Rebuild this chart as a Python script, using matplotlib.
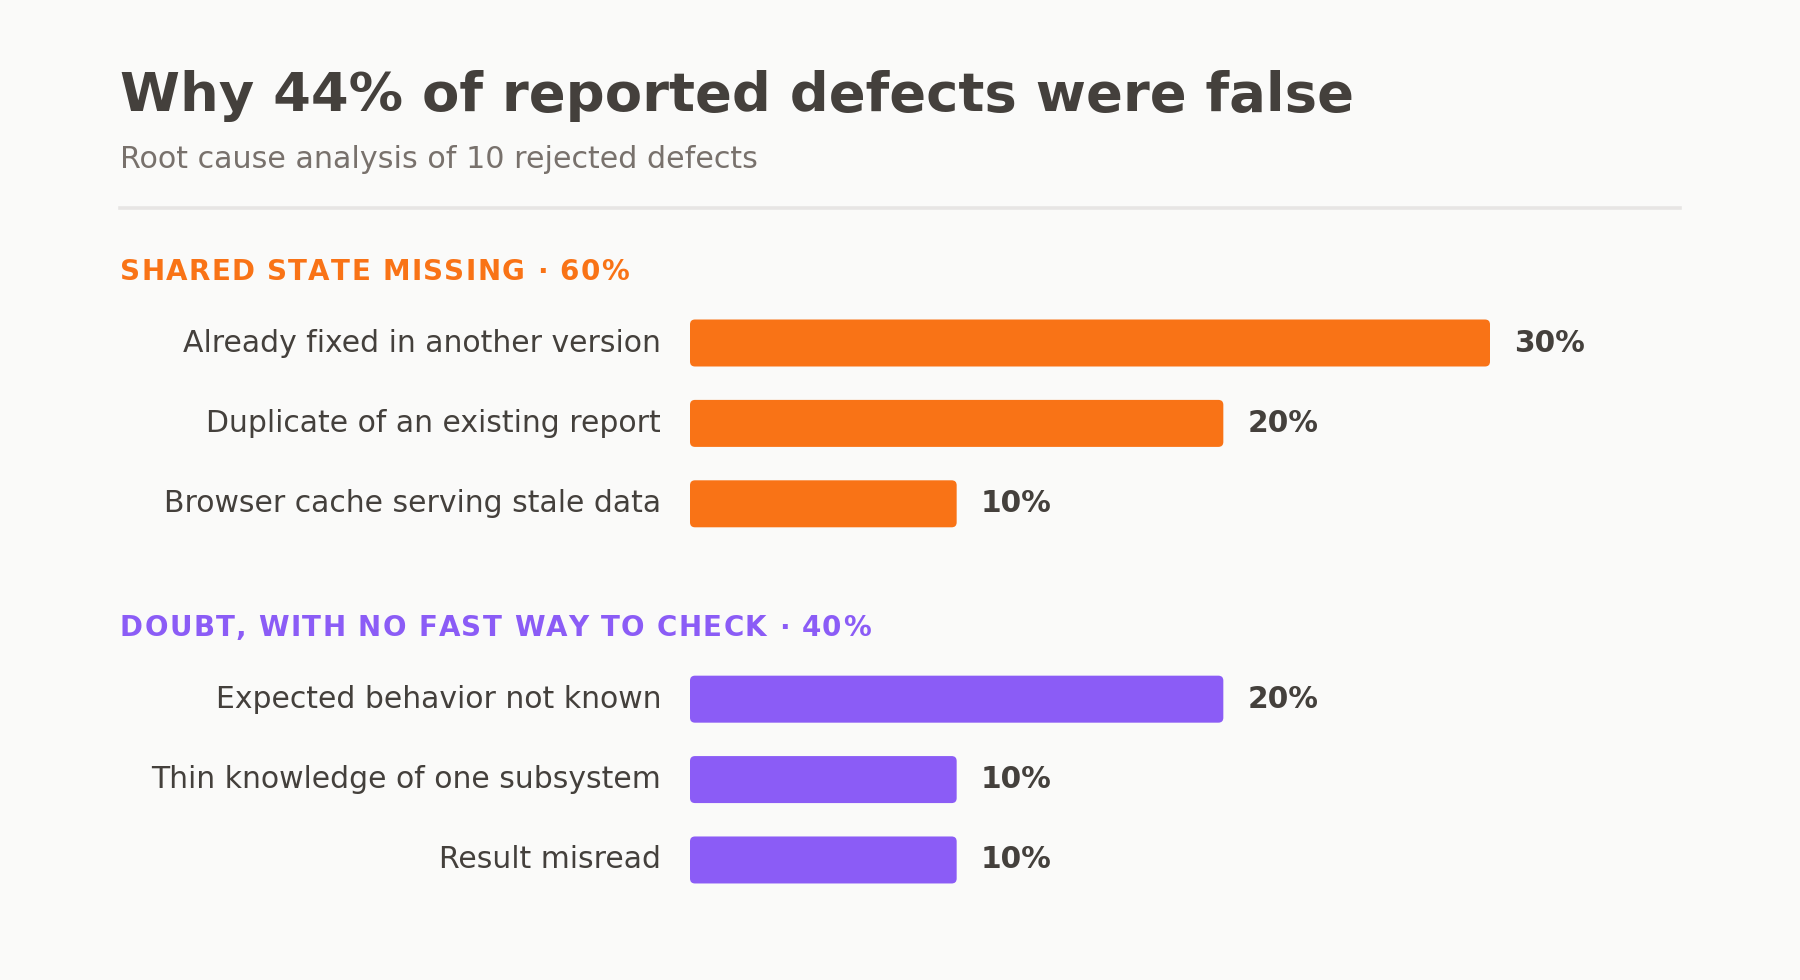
import matplotlib
matplotlib.use("Agg")
import matplotlib.pyplot as plt
from matplotlib.patches import FancyBboxPatch
from matplotlib.transforms import blended_transform_factory
from matplotlib.font_manager import FontProperties, findfont, get_font

# ---- data ----
title = "Why 44% of reported defects were false"
subtitle = "Root cause analysis of 10 rejected defects"

group_names = ["SHARED STATE MISSING", "DOUBT, WITH NO FAST WAY TO CHECK"]
group_shares = [60, 40]
group_colors = ["#f97316", "#8b5cf6"]

shared_labels = ["Already fixed in another version",
                 "Duplicate of an existing report",
                 "Browser cache serving stale data"]
shared_values = [30, 20, 10]

doubt_labels = ["Expected behavior not known",
                "Thin knowledge of one subsystem",
                "Result misread"]
doubt_values = [20, 10, 10]

groups = [(shared_labels, shared_values), (doubt_labels, doubt_values)]

# ---- style ----
BG = "#fafaf9"
DARK = "#44403c"
MUTED = "#78716c"
RULE = "#e7e5e4"
W, H = 1800, 980
DPI = 100

fig = plt.figure(figsize=(W / DPI, H / DPI), dpi=DPI, facecolor=BG)

# axes: x in percent (0..30 spans 690..1490 px), y in row slots
ax_left, ax_right = 690, 1490
ax_top_px, ax_bot_px = 200, 980
row_px = 80.4
first_row_px = 343
ax = fig.add_axes([ax_left / W, 1 - ax_bot_px / H, (ax_right - ax_left) / W,
                   (ax_bot_px - ax_top_px) / H])
ax.set_facecolor(BG)
ax.set_xlim(0, 30)
ax.set_ylim((ax_bot_px - first_row_px) / row_px, (ax_top_px - first_row_px) / row_px)
ax.axis("off")

group_gap = 1.43
header_off = -63 / row_px
bar_h = 47 / row_px
px_per_x = (ax_right - ax_left) / 30
r_px = 5
r_x = r_px / px_per_x
aspect = (r_px / row_px) / r_x

hdr_tr = blended_transform_factory(fig.transFigure, ax.transData)

HDR_SIZE = 20
HDR_SPACING = 1.3  # px letter spacing
hdr_fp = FontProperties(family="DejaVu Sans", weight="bold", size=HDR_SIZE)
hdr_font = get_font(findfont(hdr_fp))
hdr_font.set_size(HDR_SIZE, DPI)


def spaced_text(x_px, y, s, color):
    x = x_px
    for ch in s:
        ax.text(x / W, y, ch, transform=hdr_tr, ha="left", va="baseline",
                fontproperties=hdr_fp, color=color, clip_on=False)
        g = hdr_font.load_char(ord(ch))
        x += g.linearHoriAdvance / 65536 + HDR_SPACING


slot = 0.0
for g, (labels, values) in enumerate(groups):
    color = group_colors[g]
    spaced_text(120, slot + header_off, f"{group_names[g]} \u00b7 {group_shares[g]}%", color)
    for i, (lab, val) in enumerate(zip(labels, values)):
        y = slot + i
        p = FancyBboxPatch((0, y - bar_h / 2), val, bar_h,
                           boxstyle=f"round,pad=0,rounding_size={r_x}",
                           mutation_aspect=aspect, linewidth=0,
                           facecolor=color, clip_on=False)
        ax.add_patch(p)
        ax.annotate(lab, (0, y), xytext=(-29 * 0.72, 0), textcoords="offset points",
                    ha="right", va="center", fontsize=21.5, color=DARK,
                    annotation_clip=False)
        ax.annotate(f"{val}%", (val, y), xytext=(24 * 0.72, 0), textcoords="offset points",
                    ha="left", va="center", fontsize=21.3, fontweight="bold", color=DARK,
                    annotation_clip=False)
    slot += len(labels) + group_gap

# title, subtitle, rule
fig.text(120 / W, 1 - 110.5 / H, title, ha="left", va="baseline", fontsize=39.2,
         fontweight="bold", color=DARK)
fig.text(120 / W, 1 - 168 / H, subtitle, ha="left", va="baseline", fontsize=21.7,
         color=MUTED)
fig.add_artist(plt.Line2D([120 / W, 1680 / W], [1 - 208 / H, 1 - 208 / H],
                          transform=fig.transFigure, color=RULE, linewidth=2.6))

fig.savefig("out.png", dpi=DPI, facecolor=BG)
